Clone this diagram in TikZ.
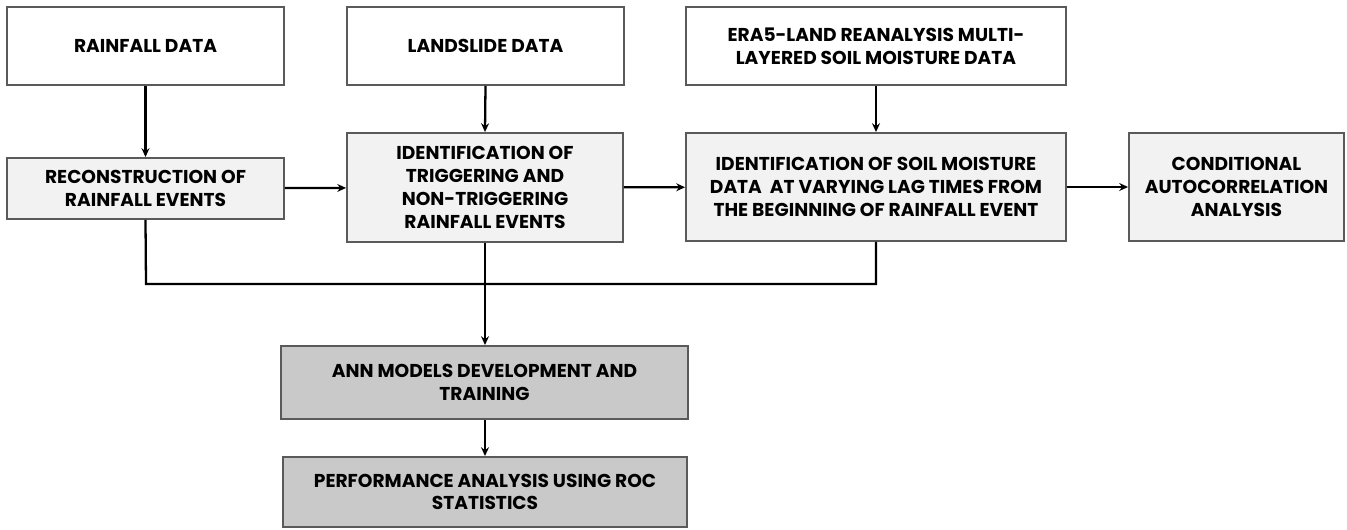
\documentclass[tikz,border=0pt]{standalone}
\usepackage{fontspec}
\setmainfont{Poppins}
\usetikzlibrary{arrows.meta}

\definecolor{lightbox}{HTML}{F2F2F2}
\definecolor{darkbox}{HTML}{C9C9C9}
\definecolor{boxline}{HTML}{5A5A5A}

\tikzset{
	databox/.style={draw=boxline, line width=1.1pt, fill=white, align=center,
		inner sep=0pt, font=\fontsize{10.6}{13}\selectfont\bfseries},
	procbox/.style={databox, fill=lightbox},
	modelbox/.style={databox, fill=darkbox},
	flow/.style={line width=1.3pt, -{Stealth[length=5pt,width=4.5pt]}},
	link/.style={line width=1.3pt}
}

\begin{document}
\begin{tikzpicture}[x=0.02cm, y=-0.02cm]

\useasboundingbox (0,0) rectangle (1347,529);

% Datos de entrada
\node[databox, minimum width=5.54cm, minimum height=1.56cm] (rain) at (145.5,46) {RAINFALL DATA};
\node[databox, minimum width=5.54cm, minimum height=1.56cm] (land) at (485.5,46) {LANDSLIDE DATA};
\node[databox, minimum width=7.6cm, minimum height=1.56cm] (era) at (876,46) {ERA5-LAND REANALYSIS MULTI-\\LAYERED SOIL MOISTURE DATA};

% Procesado
\node[procbox, minimum width=5.54cm, minimum height=1.22cm] (recon) at (145.5,188.5) {RECONSTRUCTION OF\\RAINFALL EVENTS};
\node[procbox, minimum width=5.52cm, minimum height=2.18cm] (trig) at (485,187.5) {IDENTIFICATION OF\\TRIGGERING AND\\NON-TRIGGERING\\RAINFALL EVENTS};
\node[procbox, minimum width=7.6cm, minimum height=2.16cm] (soil) at (876,187) {IDENTIFICATION OF SOIL MOISTURE\\DATA\ \ AT VARYING LAG TIMES FROM\\THE BEGINNING OF RAINFALL EVENT};
\node[procbox, minimum width=4.3cm, minimum height=2.16cm] (cond) at (1236.5,187) {CONDITIONAL\\AUTOCORRELATION\\ANALYSIS};

% Modelos
\node[modelbox, minimum width=8.14cm, minimum height=1.46cm] (ann) at (484.5,382.5) {ANN MODELS DEVELOPMENT AND\\TRAINING};
\node[modelbox, minimum width=8.08cm, minimum height=1.40cm] (perf) at (485,492) {PERFORMANCE ANALYSIS USING ROC\\STATISTICS};

% Conexiones
\draw[flow] (rain) -- (recon);
\draw[flow] (land.south) -- (trig.north);
\draw[flow] (era) -- (soil);
\draw[flow] (recon) -- (trig);
\draw[flow] (trig) -- (soil);
\draw[flow] (soil) -- (cond);

\coordinate (busL) at (146,284);
\coordinate (busR) at (876,284);
\draw[link] (recon.south) -- (busL) -- (busR) -- (soil.south);
\draw[flow] (trig.south) -- (ann.north -| trig.south);
\draw[flow] (ann.south -| perf.north) -- (perf.north);

\end{tikzpicture}
\end{document}
